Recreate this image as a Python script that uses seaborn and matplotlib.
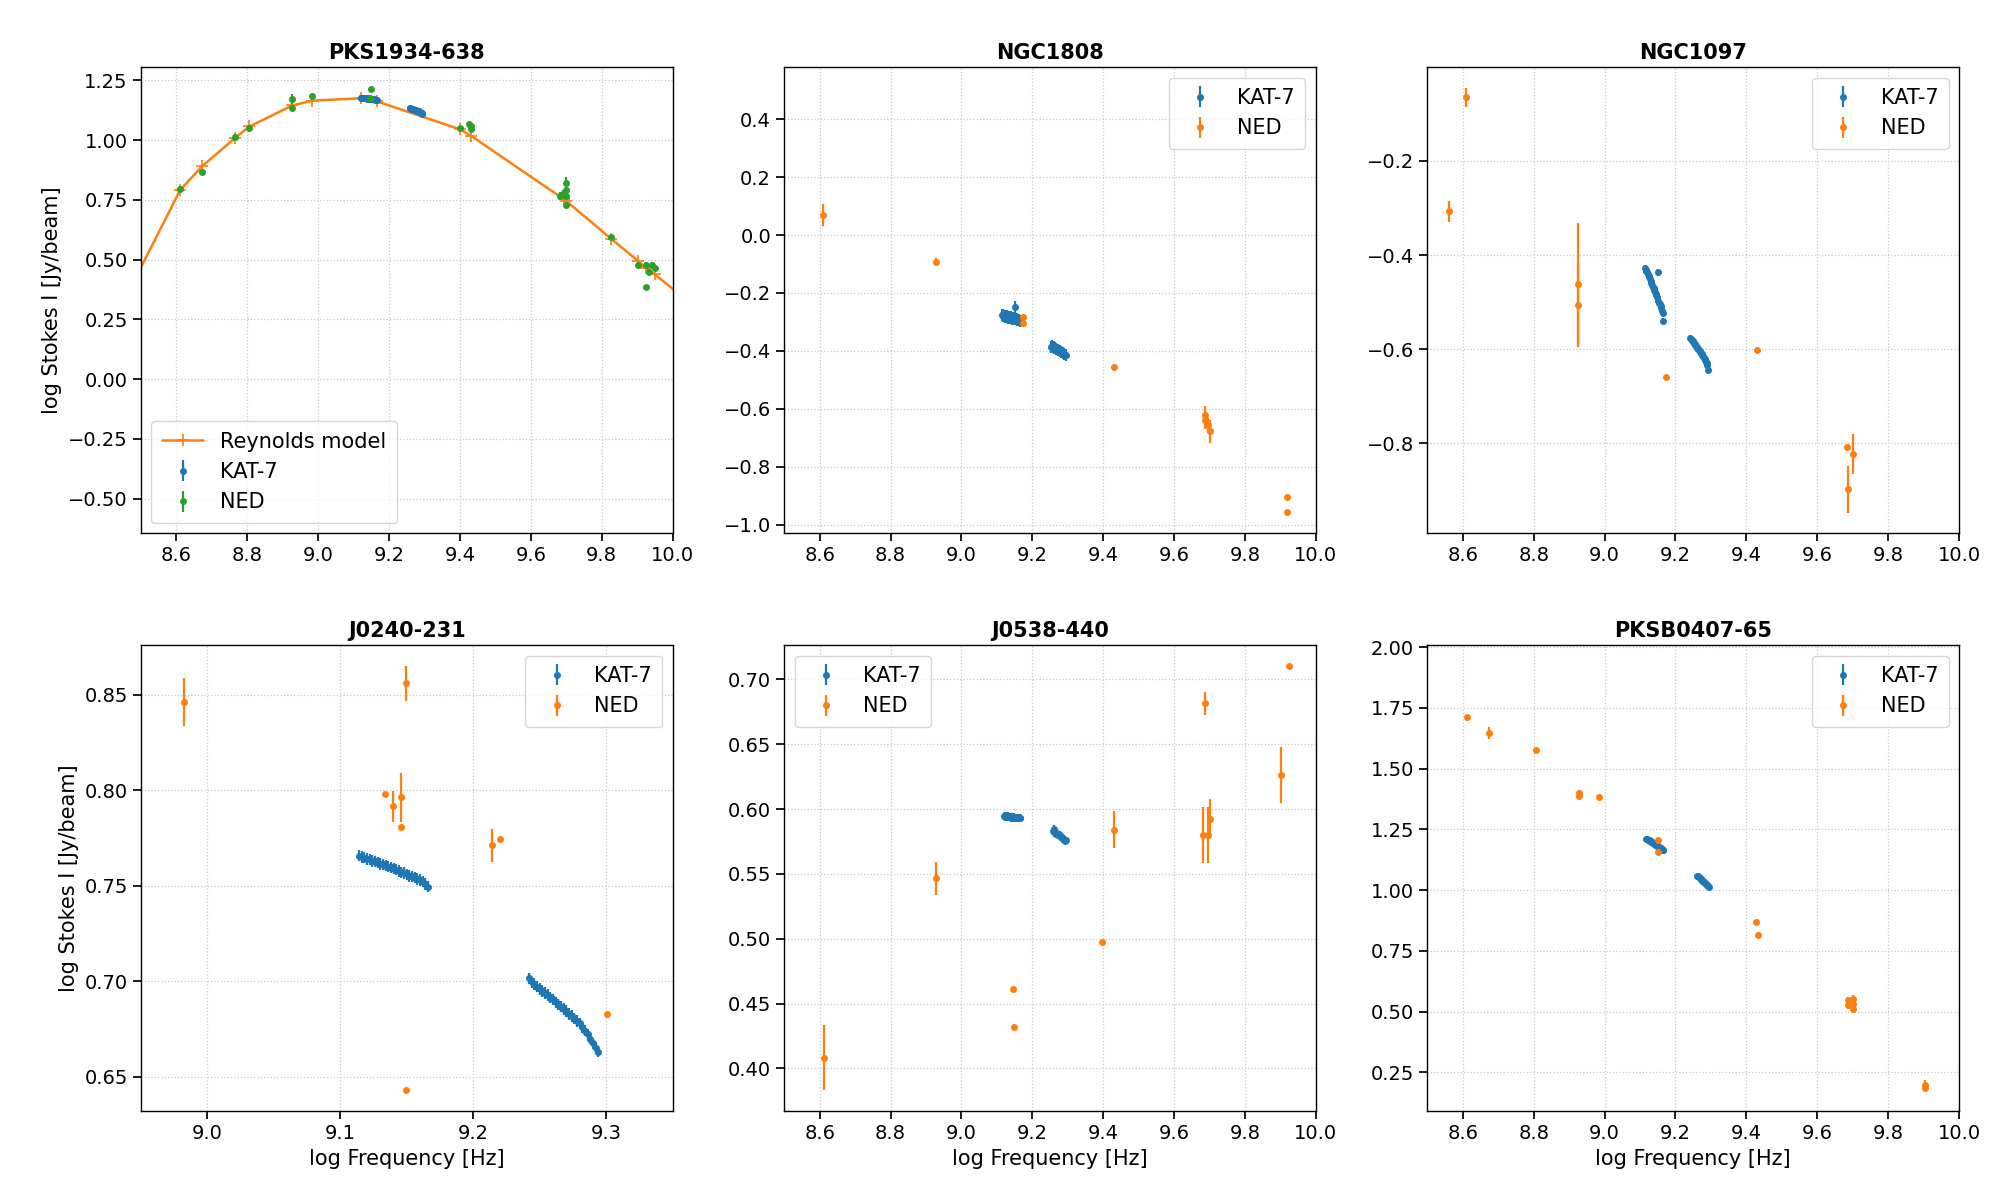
import numpy as np
import matplotlib
matplotlib.use('Agg')
import matplotlib.pyplot as plt
from matplotlib.ticker import MultipleLocator
import seaborn as sns

nan = np.nan

# KAT-7 channel frequencies (log Hz), two sub-bands
KAT_F1 = [9.114, 9.116, 9.118, 9.120, 9.122, 9.124, 9.126, 9.128, 9.130, 9.132,
          9.134, 9.136, 9.138, 9.140, 9.142, 9.144, 9.146, 9.148, 9.150, 9.152,
          9.154, 9.156, 9.158, 9.160, 9.162, 9.164, 9.166]
KAT_F2 = [9.242, 9.244, 9.246, 9.248, 9.250, 9.252, 9.254, 9.256, 9.258, 9.260,
          9.262, 9.264, 9.266, 9.268, 9.270, 9.272, 9.274, 9.276, 9.278, 9.280,
          9.282, 9.284, 9.286, 9.288, 9.290, 9.292, 9.294]

# PKS1934-638
PKS1934_KAT1 = [nan, nan, nan, 1.177, 1.177, 1.176, 1.177, 1.176, 1.175, 1.176,
                1.175, 1.175, 1.174, 1.174, 1.175, 1.173, 1.173, 1.172, 1.172, 1.171,
                1.171, 1.170, 1.170, 1.169, 1.169, 1.168, 1.168]
PKS1934_KAT2 = [nan, nan, nan, nan, nan, nan, nan, nan, 1.134, 1.133,
                1.132, 1.131, 1.130, 1.129, 1.128, 1.127, 1.126, 1.125, 1.123, 1.122,
                1.121, 1.120, 1.118, 1.117, 1.115, 1.113, 1.111]
PKS1934_NED_F = [8.610, 8.672, 8.764, 8.806, 8.927, 8.927, 8.983, 9.150, 9.147, 9.400,
                 9.425, 9.431, 9.431, 9.682, 9.690, 9.699, 9.699, 9.699, 9.699, 9.826,
                 9.903, 9.924, 9.934, 9.943, 9.950, 9.924]
PKS1934_NED_S = [0.795, 0.865, 1.015, 1.052, 1.172, 1.135, 1.184, 1.213, 1.177, 1.051,
                 1.067, 1.060, 1.045, 0.768, 0.775, 0.820, 0.790, 0.768, 0.727, 0.596,
                 0.476, 0.476, 0.450, 0.476, 0.464, 0.384]
PKS1934_NED_E = [0.012, 0.010, 0.012, 0.010, 0.022, 0.012, 0.010, 0.008, 0.010, 0.008,
                 0.008, 0.010, 0.012, 0.015, 0.015, 0.025, 0.015, 0.012, 0.010, 0.008,
                 0.015, 0.012, 0.010, 0.015, 0.012, 0.008]
MODEL_F = [8.40, 8.610, 8.672, 8.764, 8.806, 8.927, 8.983, 9.120, 9.166, 9.400,
           9.431, 9.693, 9.700, 9.826, 9.903, 9.924, 9.950, 10.10]
MODEL_S = [0.175, 0.790, 0.890, 1.007, 1.057, 1.145, 1.165, 1.175, 1.162, 1.045,
           1.018, 0.753, 0.745, 0.588, 0.494, 0.464, 0.438, 0.258]

# NGC1808
NGC1808_KAT1 = [-0.276, -0.279, -0.274, -0.281, -0.278, -0.283, -0.280, -0.284, -0.279, -0.286,
                -0.282, -0.285, -0.288, -0.283, -0.287, -0.290, -0.286, -0.289, -0.248, -0.291,
                -0.288, -0.293, -0.290, -0.294, -0.292, -0.296, -0.297]
NGC1808_KAT2 = [nan, nan, nan, nan, nan, nan, -0.386, -0.384, -0.388, -0.387,
                -0.390, -0.389, -0.392, -0.393, -0.395, -0.396, -0.398, -0.399, -0.401, -0.402,
                -0.404, -0.406, -0.407, -0.409, -0.411, -0.413, -0.415]
NGC1808_NED_F = [8.610, 8.927, 9.174, 9.174, 9.431, 9.686, 9.686, 9.697, 9.701, 9.918, 9.918]
NGC1808_NED_S = [0.070, -0.092, -0.283, -0.304, -0.455, -0.622, -0.640, -0.657, -0.677, -0.906, -0.958]
NGC1808_NED_E = [0.037, 0.012, 0.006, 0.006, 0.006, 0.030, 0.030, 0.025, 0.040, 0.005, 0.005]

# NGC1097
NGC1097_KAT1 = [-0.428, -0.431, -0.433, -0.437, -0.440, -0.444, -0.447, -0.451, -0.455, -0.460,
                -0.463, -0.467, -0.471, -0.475, -0.479, -0.482, -0.485, -0.490, -0.437, -0.497,
                -0.502, -0.505, -0.509, -0.512, -0.518, -0.523, -0.540]
NGC1097_KAT2 = [-0.576, -0.578, -0.581, -0.583, -0.585, -0.587, -0.588, -0.591, -0.594, -0.596,
                -0.598, -0.599, -0.601, -0.603, -0.605, -0.608, -0.610, -0.613, -0.615, -0.618,
                -0.621, -0.624, -0.627, -0.630, -0.634, -0.645, nan]
NGC1097_NED_F = [8.610, 8.562, 8.925, 8.925, 9.172, 9.430, 9.684, 9.686, 9.700]
NGC1097_NED_S = [-0.065, -0.307, -0.462, -0.506, -0.659, -0.602, -0.808, -0.898, -0.823]
NGC1097_NED_E = [0.020, 0.022, 0.130, 0.090, 0.004, 0.004, 0.004, 0.049, 0.043]

# J0240-231
J0240_KAT1 = [0.7658, 0.7650, 0.7647, 0.7640, 0.7638, 0.7630, 0.7628, 0.7622, 0.7615, 0.7612,
              0.7606, 0.7600, 0.7596, 0.7590, 0.7585, 0.7578, 0.7570, 0.7568, 0.7560, 0.7552,
              0.7550, 0.7543, 0.7535, 0.7530, 0.7522, 0.7510, 0.7495]
J0240_KAT2 = [0.7015, 0.6995, 0.6985, 0.6972, 0.6960, 0.6950, 0.6938, 0.6928, 0.6915, 0.6905,
              0.6890, 0.6880, 0.6868, 0.6855, 0.6845, 0.6830, 0.6818, 0.6805, 0.6792, 0.6780,
              0.6762, 0.6742, 0.6722, 0.6700, 0.6675, 0.6652, 0.6632]
J0240_NED_F = [8.9825, 9.1493, 9.1335, 9.1395, 9.1456, 9.1456, 9.2144, 9.2198, 9.3003, 9.1493]
J0240_NED_S = [0.8461, 0.8561, 0.7980, 0.7916, 0.7963, 0.7806, 0.7712, 0.7743, 0.6831, 0.6433]
J0240_NED_E = [0.0125, 0.0092, 0.0008, 0.0082, 0.0130, 0.0008, 0.0087, 0.0008, 0.0008, 0.0008]

# J0538-440
J0538_KAT1 = [nan, nan, nan, 0.5945, 0.5952, 0.5940, 0.5948, 0.5938, 0.5943, 0.5950,
              0.5936, 0.5941, 0.5947, 0.5934, 0.5940, 0.5930, 0.5944, 0.5938, 0.5933, 0.5941,
              0.5936, 0.5929, 0.5938, 0.5933, 0.5940, 0.5931, 0.5935]
J0538_KAT2 = [nan, nan, nan, nan, nan, nan, nan, nan, 0.5830, 0.5850,
              0.5822, 0.5818, 0.5812, 0.5808, 0.5815, 0.5802, 0.5798, 0.5805, 0.5792, 0.5788,
              0.5795, 0.5780, 0.5776, 0.5770, 0.5762, 0.5755, 0.5760]
J0538_NED_F = [8.611, 8.928, 9.146, 9.149, 9.398, 9.432, 9.681, 9.687, 9.697, 9.701, 9.901, 9.925]
J0538_NED_S = [0.4084, 0.5468, 0.4611, 0.4319, 0.4975, 0.5841, 0.5802, 0.6816, 0.5802, 0.5926,
               0.6266, 0.7102]
J0538_NED_E = [0.0254, 0.0128, 0.0010, 0.0010, 0.0010, 0.0143, 0.0218, 0.0090, 0.0218, 0.0150,
               0.0215, 0.0010]

# PKSB0407-65
PKSB0407_KAT1 = [nan, nan, 1.212, 1.210, 1.208, 1.206, 1.204, 1.202, 1.200, 1.198,
                 1.196, 1.194, 1.192, 1.190, 1.188, 1.186, 1.184, 1.182, 1.180, 1.178,
                 1.176, 1.174, 1.172, 1.170, 1.168, 1.166, 1.164]
PKSB0407_KAT2 = [nan, nan, nan, nan, nan, nan, nan, nan, nan, nan,
                 1.059, 1.056, 1.053, 1.050, 1.048, 1.045, 1.042, 1.039, 1.036, 1.033,
                 1.031, 1.028, 1.025, 1.022, 1.019, 1.016, 1.013]
PKSB0407_NED_F = [8.613, 8.673, 8.806, 8.927, 8.927, 8.985, 9.152, 9.152, 9.426, 9.432,
                  9.686, 9.686, 9.701, 9.701, 9.702, 9.905, 9.905]
PKSB0407_NED_S = [1.711, 1.645, 1.578, 1.398, 1.388, 1.385, 1.207, 1.157, 0.868, 0.815,
                  0.547, 0.526, 0.550, 0.531, 0.510, 0.197, 0.186]
PKSB0407_NED_E = [0.010, 0.025, 0.006, 0.015, 0.010, 0.006, 0.006, 0.006, 0.006, 0.006,
                  0.015, 0.015, 0.020, 0.015, 0.010, 0.020, 0.010]

BLUE = '#1f77b4'
ORANGE = '#ff7f0e'
GREEN = '#2ca02c'

sns.set_theme(style='ticks', rc={
    'axes.edgecolor': 'black',
    'axes.linewidth': 1.0,
    'text.color': 'black',
    'axes.labelcolor': 'black',
    'xtick.color': 'black',
    'ytick.color': 'black',
    'xtick.labelsize': 14,
    'ytick.labelsize': 14,
    'axes.labelsize': 15,
    'axes.titlesize': 15,
    'axes.titleweight': 'bold',
    'legend.fontsize': 15,
})
plt.rcParams['font.family'] = ['DejaVu Sans']

fig, axes = plt.subplots(2, 3, figsize=(20, 12), dpi=100)
fig.subplots_adjust(left=0.0705, right=0.9795, bottom=0.074, top=0.944,
                    wspace=0.21, hspace=0.24)

panels = [
    ('PKS1934-638', PKS1934_KAT1, PKS1934_KAT2, 0.003, PKS1934_NED_F, PKS1934_NED_S, PKS1934_NED_E,
     GREEN, (8.5, 10.0), (-0.645, 1.305), 0.2, 0.25, 'lower left'),
    ('NGC1808', NGC1808_KAT1, NGC1808_KAT2, 0.02, NGC1808_NED_F, NGC1808_NED_S, NGC1808_NED_E,
     ORANGE, (8.5, 10.0), (-1.03, 0.58), 0.2, 0.2, 'upper right'),
    ('NGC1097', NGC1097_KAT1, NGC1097_KAT2, 0.007, NGC1097_NED_F, NGC1097_NED_S, NGC1097_NED_E,
     ORANGE, (8.5, 10.0), (-0.991, -0.001), 0.2, 0.2, 'upper right'),
    ('J0240-231', J0240_KAT1, J0240_KAT2, 0.003, J0240_NED_F, J0240_NED_S, J0240_NED_E,
     ORANGE, (8.95, 9.35), (0.632, 0.876), 0.1, 0.05, 'upper right'),
    ('J0538-440', J0538_KAT1, J0538_KAT2, 0.0025, J0538_NED_F, J0538_NED_S, J0538_NED_E,
     ORANGE, (8.5, 10.0), (0.367, 0.7265), 0.2, 0.05, 'upper left'),
    ('PKSB0407-65', PKSB0407_KAT1, PKSB0407_KAT2, 0.005, PKSB0407_NED_F, PKSB0407_NED_S, PKSB0407_NED_E,
     ORANGE, (8.5, 10.0), (0.09, 2.008), 0.2, 0.25, 'upper right'),
]

kat_f = KAT_F1 + KAT_F2

for i, (ax, p) in enumerate(zip(axes.flat, panels)):
    title, k1, k2, kerr, nf, ns, ne, ncol, xlim, ylim, xstep, ystep, loc = p

    if i == 0:
        sns.lineplot(x=MODEL_F, y=MODEL_S, sort=False, ax=ax, color=ORANGE, lw=1.8,
                     marker='+', markersize=9, markeredgecolor=ORANGE, markeredgewidth=1.2,
                     label='Reynolds model')

    ax.errorbar(kat_f, k1 + k2, yerr=kerr, fmt='.', color=BLUE, ms=8,
                elinewidth=1.6, capsize=0, label='KAT-7')
    ax.errorbar(nf, ns, yerr=ne, fmt='.', color=ncol, ms=8,
                elinewidth=1.6, capsize=0, label='NED')

    ax.set_xlim(*xlim)
    ax.set_ylim(*ylim)
    ax.xaxis.set_major_locator(MultipleLocator(xstep))
    ax.yaxis.set_major_locator(MultipleLocator(ystep))
    ax.grid(True, ls=':', color='#c8c8c8', lw=0.9)
    ax.set_axisbelow(True)
    ax.set_title(title, fontweight='bold')
    if i % 3 == 0:
        ax.set_ylabel('log Stokes I [Jy/beam]')
    if i >= 3:
        ax.set_xlabel('log Frequency [Hz]')
    ax.legend(loc=loc, frameon=True, fancybox=True, framealpha=0.8,
              edgecolor='#cccccc', borderpad=0.5)

fig.savefig('out.png', dpi=100)
